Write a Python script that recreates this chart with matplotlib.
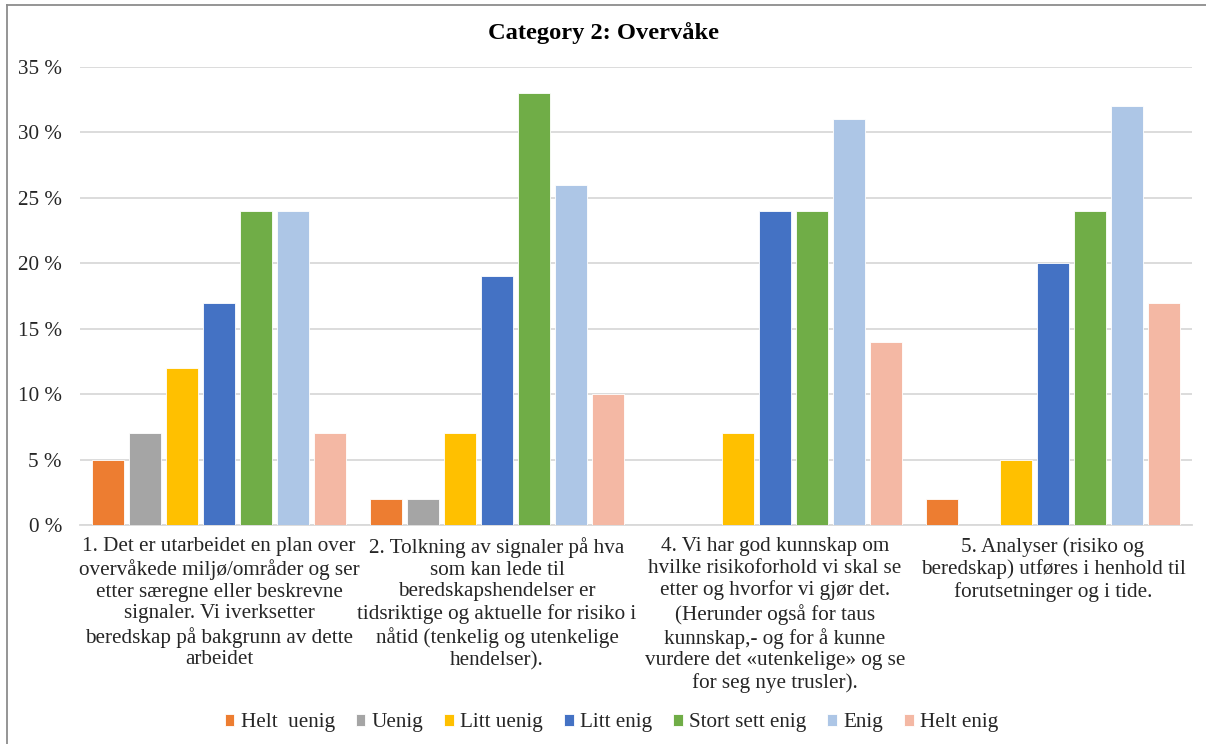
import matplotlib
matplotlib.use("Agg")
import matplotlib.pyplot as plt
from matplotlib.lines import Line2D
import numpy as np

plt.rcParams['font.family'] = ['Liberation Serif', 'DejaVu Serif']

title = "Category 2: Overvåke"
categories = [
    "1. Det er utarbeidet en plan over\novervåkede miljø/områder og ser\netter særegne eller beskrevne\nsignaler. Vi iverksetter\nberedskap på bakgrunn av dette\narbeidet",
    "2. Tolkning av signaler på hva\nsom kan lede til\nberedskapshendelser er\ntidsriktige og aktuelle for risiko i\nnåtid (tenkelig og utenkelige\nhendelser).",
    "4. Vi har god kunnskap om\nhvilke risikoforhold vi skal se\netter og hvorfor vi gjør det.\n(Herunder også for taus\nkunnskap,- og for å kunne\nvurdere det «utenkelige» og se\nfor seg nye trusler).",
    "5. Analyser (risiko og\nberedskap) utføres i henhold til\nforutsetninger og i tide.",
]
series_names = ["Helt  uenig", "Uenig", "Litt uenig", "Litt enig",
                "Stort sett enig", "Enig", "Helt enig"]
helt_uenig = [5, 2, 0, 2]
uenig = [7, 2, 0, 0]
litt_uenig = [12, 7, 7, 5]
litt_enig = [17, 19, 24, 20]
stort_sett_enig = [24, 33, 24, 24]
enig = [24, 26, 31, 32]
helt_enig = [7, 10, 14, 17]
series_values = [helt_uenig, uenig, litt_uenig, litt_enig,
                 stort_sett_enig, enig, helt_enig]
colors = ["#ED7D31", "#A5A5A5", "#FFC000", "#4472C4",
          "#70AD47", "#ADC6E6", "#F4B8A4"]
yticks = [0, 5, 10, 15, 20, 25, 30, 35]

FS = 15.2

fig = plt.figure(figsize=(12.06, 7.44), dpi=100)
ax = fig.add_axes([80 / 1206, 1 - 525 / 744, (1192 - 80) / 1206, (525 - 67) / 744])

n = len(series_names)
x = np.arange(len(categories))
step = 0.133
width = 0.115
offsets = (np.arange(n) - (n - 1) / 2) * step
for i, (name, vals, c) in enumerate(zip(series_names, series_values, colors)):
    ax.bar(x + offsets[i], vals, width=width, color=c, label=name,
           edgecolor="white", linewidth=0.6, zorder=3)

ax.set_xlim(-0.5, len(categories) - 0.5)
ax.set_ylim(0, 35)
ax.set_yticks(yticks)
ax.set_yticklabels([f"{v} %" for v in yticks], fontsize=FS)
ax.yaxis.grid(True, color="#D9D9D9", linewidth=1.3, zorder=0)
ax.set_axisbelow(True)
for s in ["top", "right", "left"]:
    ax.spines[s].set_visible(False)
ax.spines["bottom"].set_color("#D9D9D9")
ax.spines["bottom"].set_linewidth(1.3)
ax.tick_params(axis="y", length=0, pad=13, colors="#262626")
ax.tick_params(axis="x", length=0, pad=8.5)
ax.set_xticks(x)
ax.set_xticklabels(categories, fontsize=FS, linespacing=1.2, va="top",
                   color="#262626")

fig.text(0.5, 1 - 33 / 744, title, ha="center", va="center",
         fontsize=17.6, fontweight="bold")

leg = fig.legend(loc="center", bbox_to_anchor=(0.507, 1 - 723 / 744), ncol=7,
                 frameon=False, fontsize=FS, handlelength=0.45,
                 handleheight=0.45, handletextpad=0.3, columnspacing=1.0)
for t in leg.get_texts():
    t.set_color("#262626")

# outer frame lines
fig.add_artist(Line2D([7 / 1206, 1], [1 - 5 / 744, 1 - 5 / 744],
                      transform=fig.transFigure, color="#8C8C8C", linewidth=1.3))
fig.add_artist(Line2D([7 / 1206, 7 / 1206], [0, 1 - 5 / 744],
                      transform=fig.transFigure, color="#8C8C8C", linewidth=1.3))

fig.savefig("out.png", dpi=100)
